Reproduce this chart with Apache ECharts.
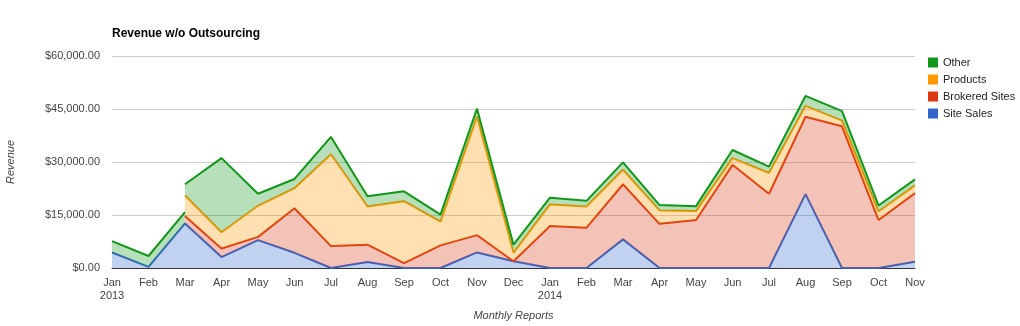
<!DOCTYPE html>
<html><head><meta charset="utf-8">
<script src="https://cdn.jsdelivr.net/npm/echarts@6/dist/echarts.min.js"></script>
<style>html,body{margin:0;padding:0;background:#fff}#c{width:1020px;height:326px}</style>
</head><body><div id="c"></div>
<script>
const months = ['Jan','Feb','Mar','Apr','May','Jun','Jul','Aug','Sep','Oct','Nov','Dec','Jan','Feb','Mar','Apr','May','Jun','Jul','Aug','Sep','Oct','Nov'];
const years = ['2013','','','','','','','','','','','','2014','','','','','','','','','',''];
const siteSales = [4400,300,12600,3100,7900,4300,0,1700,0,0,4400,1900,0,0,8100,0,0,0,0,20900,0,0,1800];
const brokeredSites = [null,null,2100,2400,900,12600,6200,4900,1400,6400,4900,0,11900,11400,15600,12500,13600,29200,21000,21900,40100,13600,19400];
const products = [null,null,5800,4600,8800,5700,26000,10800,17500,6700,33500,2400,6100,6000,4100,3800,2500,1900,5900,3100,1600,2400,2200];
const other = [3200,3100,3200,21000,3400,2600,4900,2900,2800,2000,2300,2300,1900,1600,2100,1500,1400,2300,1800,2800,2700,1700,1700];
const yTicks = [0,15000,30000,45000,60000];
const seriesNames = ['Site Sales','Brokered Sites','Products','Other'];
const seriesColors = ['#3366cc','#dc3912','#ff9900','#109618'];
const seriesValues = [siteSales, brokeredSites, products, other];

function startsAt(arr, i){ return i > 0 && arr[i-1] == null && arr[i] != null; }
function firstStarting(i){ return seriesValues.findIndex(a => startsAt(a, i)); }
// where a series begins mid-chart, the stack changes: add a "before" step and a break step at the same x
const steps = [];
months.forEach((m, i) => {
  if (firstStarting(i) >= 0) {
    steps.push({i: i, kind: 'pre'});
    steps.push({i: i, kind: 'gap'});
  }
  steps.push({i: i, kind: 'main'});
});
// items are [value, monthIndex] so that the value dimension is the stacked one
function build(arr, k){
  return steps.map(s => {
    let v = arr[s.i];
    if (s.kind === 'pre' && startsAt(arr, s.i)) v = null;
    if (s.kind === 'gap' && k >= firstStarting(s.i)) v = null;
    return [v, s.i];
  });
}
function money(v){
  const s = Math.round(v).toString().replace(/\B(?=(\d{3})+(?!\d))/g, ',');
  return '$' + s + '.00';
}

const chart = echarts.init(document.getElementById('c'), null, {renderer: 'canvas'});
const font = 'Arial, "Liberation Sans", sans-serif';
chart.setOption({
  animation: false,
  textStyle: {fontFamily: font},
  title: {
    text: 'Revenue w/o Outsourcing', left: 107, top: 23,
    textStyle: {fontSize: 12, fontWeight: 'bold', color: '#000', fontFamily: font}
  },
  legend: {
    orient: 'vertical', left: 923, top: 52, itemWidth: 10, itemHeight: 10, itemGap: 6,
    icon: 'rect',
    textStyle: {fontSize: 11, color: '#222', fontFamily: font},
    data: seriesNames.slice().reverse().map(n => ({name: n, itemStyle: {color: seriesColors[seriesNames.indexOf(n)], opacity: 1, borderWidth: 0}}))
  },
  grid: {left: 112, right: 105, top: 56, bottom: 58, containLabel: false, outerBoundsMode: 'none'},
  xAxis: {
    type: 'value', min: 0, max: months.length - 1, interval: 1,
    name: 'Monthly Reports', nameLocation: 'middle', nameGap: 42,
    nameTextStyle: {fontSize: 11, fontStyle: 'italic', color: '#444', fontFamily: font},
    axisLine: {show: true, lineStyle: {color: '#333', width: 1}},
    axisTick: {show: false},
    splitLine: {show: false},
    axisLabel: {
      fontSize: 11, color: '#444', lineHeight: 13, margin: 8, fontFamily: font,
      formatter: v => months[v] + (years[v] ? '\n' + years[v] : '')
    }
  },
  yAxis: {
    type: 'value', min: yTicks[0], max: yTicks[yTicks.length - 1], interval: yTicks[1] - yTicks[0],
    name: 'Revenue', nameLocation: 'middle', nameGap: 96, nameRotate: 90,
    nameTextStyle: {fontSize: 11, fontStyle: 'italic', color: '#444', fontFamily: font},
    axisLine: {show: false}, axisTick: {show: false},
    splitLine: {lineStyle: {color: '#cccccc', width: 1}},
    axisLabel: {fontSize: 11, color: '#444', margin: 12, fontFamily: font, formatter: money}
  },
  series: seriesNames.map((n, k) => ({
    name: n, type: 'line', stack: 'total', data: build(seriesValues[k], k),
    encode: {x: 1, y: 0},
    showSymbol: false, symbol: 'none', connectNulls: false,
    lineStyle: {width: 2, color: seriesColors[k]},
    itemStyle: {color: seriesColors[k]},
    areaStyle: {color: seriesColors[k], opacity: 0.3},
    z: 2 + k
  }))
});
</script></body></html>
